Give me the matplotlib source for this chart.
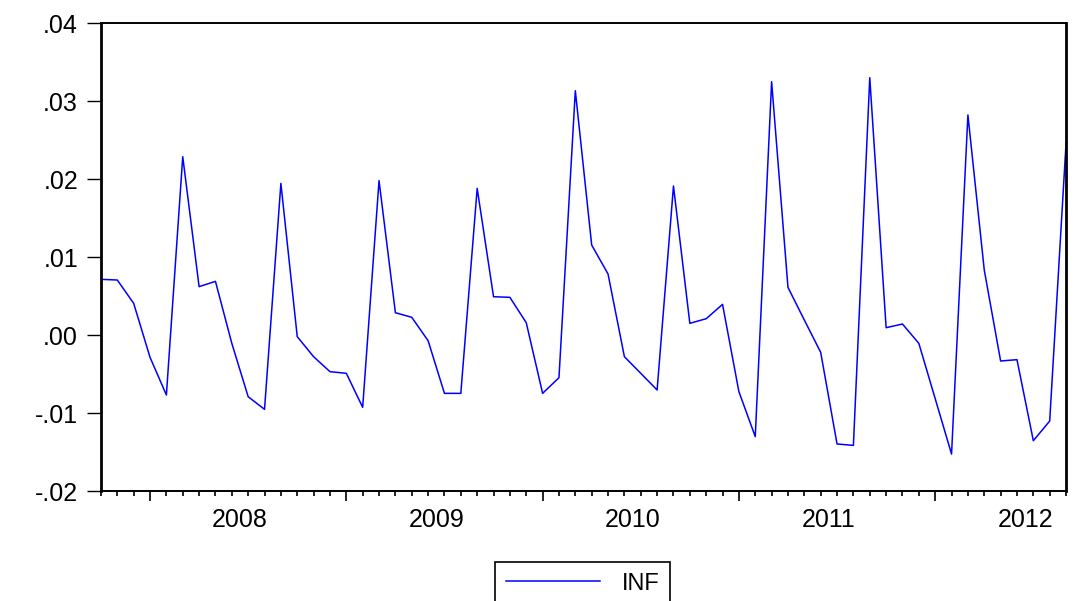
import numpy as np
import matplotlib
matplotlib.use('Agg')
import matplotlib.pyplot as plt
from matplotlib.ticker import FuncFormatter, MultipleLocator
from matplotlib.transforms import blended_transform_factory

plt.rcParams['font.family'] = ['Liberation Sans', 'DejaVu Sans']

# monthly series, 2007M10 .. 2012M09
start_year = 2007
start_month = 10
inf = [0.00714, 0.00705, 0.00406, -0.00286, -0.00769, 0.02286, 0.00620, 0.00688,
       -0.00107, -0.00791, -0.00953, 0.01944, -0.00021, -0.00278, -0.00470, -0.00491,
       -0.00927, 0.01979, 0.00286, 0.00227, -0.00073, -0.00748, -0.00748, 0.01880,
       0.00491, 0.00483, 0.00158, -0.00748, -0.00547, 0.03132, 0.01154, 0.00782,
       -0.00278, -0.00491, -0.00705, 0.01910, 0.00150, 0.00209, 0.00393, -0.00726,
       -0.01303, 0.03248, 0.00611, 0.00192, -0.00222, -0.01397, -0.01415, 0.03299,
       0.00094, 0.00141, -0.00107, -0.00816, -0.01526, 0.02821, 0.00833, -0.00333,
       -0.00316, -0.01355, -0.01103, 0.02457]
years = [2008, 2009, 2010, 2011, 2012]

x = np.arange(len(inf))
jan_pos = [(y - start_year) * 12 + (1 - start_month) for y in years]

fig = plt.figure(figsize=(10.74, 6.01), dpi=100)
ax = fig.add_axes([0.0940, 0.1830, 0.8986, 0.7787])

ax.plot(x, inf, color='#0000ff', lw=1.1, label='INF')

ax.set_xlim(0, len(inf) - 1)
ax.set_ylim(-0.02, 0.04)
ax.yaxis.set_major_locator(MultipleLocator(0.01))
ax.yaxis.set_major_formatter(FuncFormatter(lambda v, p: ('%.2f' % v).replace('0.', '.')))

ax.set_xticks(jan_pos)
ax.set_xticklabels([''] * len(jan_pos))
ax.set_xticks(x, minor=True)
ax.tick_params(axis='x', which='major', direction='out', length=7.5, width=1.2)
ax.tick_params(axis='x', which='minor', direction='out', length=3.8, width=1.2)
ax.tick_params(axis='y', direction='out', length=10, width=1.0, pad=6.5, labelsize=18)

trans = blended_transform_factory(ax.transData, ax.transAxes)
for yr, p in zip(years, jan_pos):
    ax.text(p + 5.5, -0.061, str(yr), transform=trans, ha='center', va='center', fontsize=18)

for s in ['left', 'right']:
    ax.spines[s].set_linewidth(2.0)
for s in ['top', 'bottom']:
    ax.spines[s].set_linewidth(1.4)

leg = ax.legend(loc='upper center', bbox_to_anchor=(0.5424, 1 - 562 / 601), bbox_transform=fig.transFigure,
                fontsize=17, handlelength=4.0, handletextpad=0.9, borderpad=0.45, borderaxespad=0,
                fancybox=False, framealpha=1)
leg.get_frame().set_edgecolor('black')
leg.get_frame().set_linewidth(1.2)

fig.savefig('out.png', dpi=100)
